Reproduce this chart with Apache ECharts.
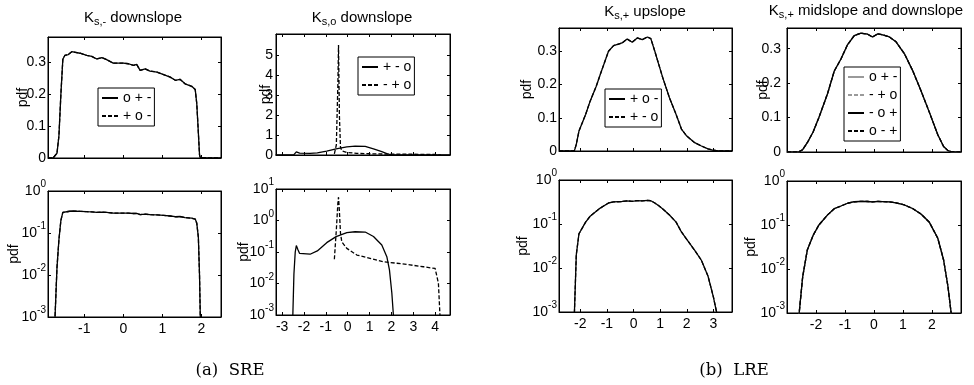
<!DOCTYPE html>
<html><head><meta charset="utf-8">
<script src="https://cdn.jsdelivr.net/npm/echarts@6/dist/echarts.min.js"></script>
<style>html,body{margin:0;padding:0;background:#fff}#c{width:974px;height:385px}</style>
</head><body><div id="c"></div>
<script>
// ---------- data ----------
// (a) SRE, K_s,- downslope : "o + -" (solid) and "+ o -" (dashed, coincident)
const sreMinusX = [-1.93, -1.80, -1.75, -1.70, -1.65, -1.60, -1.55, -1.50, -1.41, -1.32, -1.11, -0.94, -0.81, -0.68, -0.55, -0.43, -0.26, 0.00, 0.13, 0.26, 0.34, 0.43, 0.56, 0.68, 0.86, 1.03, 1.20, 1.33, 1.45, 1.58, 1.75, 1.84, 1.88, 1.92, 1.95, 1.97, 2.00, 2.50];
const sreMinusY = [1e-6, 1e-6, 0.001, 0.015, 0.07, 0.20, 0.31, 0.322, 0.325, 0.334, 0.329, 0.322, 0.319, 0.311, 0.315, 0.309, 0.298, 0.298, 0.296, 0.291, 0.294, 0.275, 0.280, 0.273, 0.270, 0.262, 0.254, 0.244, 0.247, 0.233, 0.225, 0.215, 0.170, 0.080, 0.010, 0.001, 1e-6, 1e-6];
// (a) SRE, K_s,o downslope : "+ - o" (solid)
const sreZeroSolidX = [-3.30, -2.56, -2.51, -2.46, -2.40, -2.35, -2.28, -2.20, -2.13, -1.72, -1.39, -0.96, -0.53, -0.04, 0.34, 0.80, 1.18, 1.56, 1.79, 1.91, 2.02, 2.09, 2.14, 4.70];
const sreZeroSolidY = [1e-6, 1e-6, 0.001, 0.02, 0.10, 0.16, 0.12, 0.09, 0.08, 0.085, 0.108, 0.198, 0.307, 0.41, 0.44, 0.43, 0.31, 0.166, 0.071, 0.027, 0.0049, 0.001, 1e-6, 1e-6];
// (a) SRE, K_s,o downslope : "- + o" (dashed)
const sreZeroDashX = [-0.61, -0.52, -0.45, -0.42, -0.38, -0.33, -0.27, -0.04, 0.42, 1.02, 1.63, 2.25, 2.85, 3.46, 4.00, 4.08, 4.15, 4.22, 4.26];
const sreZeroDashY = [0.059, 0.5, 3.5, 5.5, 2.0, 0.4, 0.21, 0.13, 0.08, 0.063, 0.049, 0.044, 0.039, 0.034, 0.030, 0.027, 0.0102, 0.001, 1e-6];
// (b) LRE, K_s,+ upslope : "+ o -" (solid) and "+ - o" (dashed, coincident)
const lreUpX = [-2.80, -2.30, -2.22, -2.15, -2.05, -1.80, -1.63, -1.40, -1.25, -0.94, -0.75, -0.43, -0.24, -0.05, 0.14, 0.33, 0.52, 0.65, 0.80, 0.95, 1.10, 1.35, 1.60, 1.80, 2.00, 2.30, 2.55, 2.80, 3.00, 3.12, 3.20, 3.70];
const lreUpY = [1e-6, 1e-6, 0.001, 0.02, 0.06, 0.11, 0.15, 0.195, 0.23, 0.30, 0.317, 0.325, 0.337, 0.327, 0.34, 0.335, 0.343, 0.338, 0.30, 0.26, 0.22, 0.16, 0.11, 0.066, 0.045, 0.025, 0.015, 0.0065, 0.0022, 0.001, 1e-5, 1e-6];
// (b) LRE, K_s,+ midslope and downslope : four coincident curves
const lreMidX = [-3.00, -2.66, -2.58, -2.46, -2.30, -2.10, -1.90, -1.60, -1.37, -1.14, -0.91, -0.68, -0.45, -0.22, -0.05, 0.13, 0.30, 0.53, 0.76, 1.05, 1.33, 1.62, 1.91, 2.20, 2.40, 2.55, 2.66, 2.70, 3.00];
const lreMidY = [1e-6, 1e-6, 0.001, 0.0066, 0.027, 0.058, 0.10, 0.17, 0.235, 0.27, 0.312, 0.338, 0.345, 0.342, 0.334, 0.343, 0.34, 0.334, 0.32, 0.285, 0.237, 0.178, 0.115, 0.05, 0.016, 0.004, 0.001, 1e-6, 1e-6];

// tick labels
const xTicks1 = [-1, 0, 1, 2];
const xTicks2 = [-3, -2, -1, 0, 1, 2, 3, 4];
const xTicks3 = [-2, -1, 0, 1, 2, 3];
const xTicks4 = [-2, -1, 0, 1, 2];
const yTicksSmall = [0, 0.1, 0.2, 0.3];
const yTicksBig = [0, 1, 2, 3, 4, 5];

// legend labels
const leg1 = ['o + -', '+ o -'];
const leg2 = ['+ - o', '- + o'];
const leg3 = ['+ o -', '+ - o'];
const leg4 = ['o + -', '- + o', '- o +', 'o - +'];

// ---------- chart ----------
const FONT = 'Liberation Sans, Arial, sans-serif';
const FS = 14;
const zip = (xs, ys) => xs.map((x, i) => [x, ys[i]]);

const grids = [
  {left: 48,  top: 37,  width: 173, height: 121},
  {left: 276, top: 34,  width: 174, height: 121},
  {left: 559, top: 28,  width: 173, height: 123},
  {left: 787, top: 28,  width: 174, height: 124},
  {left: 48,  top: 191, width: 173, height: 126},
  {left: 276, top: 189, width: 174, height: 126},
  {left: 559, top: 180, width: 173, height: 132},
  {left: 787, top: 181, width: 174, height: 132}
];
const xRanges = [[-1.93, 2.5], [-3.28, 4.68], [-2.8, 3.7], [-3, 3]];
const xTickSets = [xTicks1, xTicks2, xTicks3, xTicks4];
const linMax = [0.38, 6.05, 0.37, 0.36];
const linTicks = [yTicksSmall, yTicksBig, yTicksSmall, yTicksSmall];
const logMax = [1, 10, 1, 1];
const nameGapsTop = [18, 3, 25, 17];
const nameGapsBot = [27, 25, 29, 29];
const labelMarginTop = [2, 3, 2, 6];
const labelMarginBot = [2, 2, 2, 2];

const xAxes = [], yAxes = [];
const black = '#000';
const tickCommon = {show: true, inside: true, length: 3, lineStyle: {color: black, width: 1}};
for (let g = 0; g < 8; g++) {
  const col = g % 4, bottom = g >= 4;
  const [xmin, xmax] = xRanges[col];
  const xt = xTickSets[col];
  ['bottom', 'top'].forEach((pos, k) => {
    xAxes.push({
      gridIndex: g, type: 'value', min: xmin, max: xmax, position: pos,
      axisLine: {show: true, onZero: false, lineStyle: {color: black, width: 1}},
      axisTick: Object.assign({}, tickCommon, {customValues: xt}),
      axisLabel: {show: bottom && k === 0, customValues: xt, color: black, fontSize: FS, fontFamily: FONT, margin: 5},
      splitLine: {show: false}
    });
  });
  ['left', 'right'].forEach((pos, k) => {
    const main = k === 0;
    const nameCommon = {
      name: main ? 'pdf' : '', nameLocation: 'middle', nameRotate: 90, nameMoveOverlap: false,
      nameGap: bottom ? nameGapsBot[col] : nameGapsTop[col],
      nameTextStyle: {color: black, fontSize: FS, fontFamily: FONT}
    };
    if (!bottom) {
      yAxes.push(Object.assign({
        gridIndex: g, type: 'value', min: 0, max: linMax[col], position: pos,
        axisLine: {show: true, onZero: false, lineStyle: {color: black, width: 1}},
        axisTick: Object.assign({}, tickCommon, {customValues: linTicks[col]}),
        axisLabel: {show: main, customValues: linTicks[col], color: black, fontSize: FS, fontFamily: FONT, margin: labelMarginTop[col]},
        splitLine: {show: false}
      }, nameCommon));
    } else {
      yAxes.push(Object.assign({
        gridIndex: g, type: 'log', logBase: 10, min: 0.001, max: logMax[col], position: pos,
        axisLine: {show: true, onZero: false, lineStyle: {color: black, width: 1}},
        axisTick: tickCommon,
        axisLabel: {
          show: main, margin: labelMarginBot[col], color: black, fontFamily: FONT,
          formatter: v => '{b|10}{e|' + Math.round(Math.log10(v)) + '}',
          rich: {
            b: {fontSize: FS, color: black, fontFamily: FONT},
            e: {fontSize: 10, color: black, fontFamily: FONT, padding: [0, 0, 13, 0]}
          }
        },
        splitLine: {show: false}
      }, nameCommon));
    }
  });
}

const series = [];
function addLine(g, name, xs, ys, color, dashed, z) {
  series.push({
    type: 'line', name: name, xAxisIndex: g * 2, yAxisIndex: g * 2,
    data: zip(xs, ys), showSymbol: false, symbol: 'none', clip: true, animation: false,
    lineStyle: {color: color, width: 1.3, type: dashed ? [4, 2] : 'solid'},
    itemStyle: {color: color}, z: z || 2
  });
}
const gray = '#9a9a9a';
// top row (linear)
addLine(0, leg1[0] + '#1', sreMinusX, sreMinusY, black, false);
addLine(0, leg1[1] + '#1', sreMinusX, sreMinusY, black, true);
addLine(1, leg2[0] + '#2', sreZeroSolidX, sreZeroSolidY, black, false);
addLine(1, leg2[1] + '#2', sreZeroDashX, sreZeroDashY, black, true);
addLine(2, leg3[0] + '#3', lreUpX, lreUpY, black, false);
addLine(2, leg3[1] + '#3', lreUpX, lreUpY, black, true);
addLine(3, leg4[0] + '#4', lreMidX, lreMidY, gray, false, 2);
addLine(3, leg4[1] + '#4', lreMidX, lreMidY, gray, true, 2);
addLine(3, leg4[2] + '#4', lreMidX, lreMidY, black, false, 3);
addLine(3, leg4[3] + '#4', lreMidX, lreMidY, black, true, 3);
// bottom row (log)
addLine(4, 'log1a', sreMinusX, sreMinusY, black, false);
addLine(4, 'log1b', sreMinusX, sreMinusY, black, true);
addLine(5, 'log2a', sreZeroSolidX, sreZeroSolidY, black, false);
addLine(5, 'log2b', sreZeroDashX, sreZeroDashY, black, true);
addLine(6, 'log3a', lreUpX, lreUpY, black, false);
addLine(6, 'log3b', lreUpX, lreUpY, black, true);
addLine(7, 'log4a', lreMidX, lreMidY, gray, false, 2);
addLine(7, 'log4b', lreMidX, lreMidY, gray, true, 2);
addLine(7, 'log4c', lreMidX, lreMidY, black, false, 3);
addLine(7, 'log4d', lreMidX, lreMidY, black, true, 3);

function legendAt(left, top, names, suffix) {
  return {
    orient: 'vertical', left: left, top: top, data: names.map(n => n + suffix),
    formatter: n => n.split('#')[0], selectedMode: false,
    borderColor: black, borderWidth: 1, borderRadius: 0, backgroundColor: '#fff',
    padding: [2, 3, 2, 3], itemGap: 2, itemWidth: 16, itemHeight: 8,
    itemStyle: {opacity: 0},
    textStyle: {fontSize: FS, color: black, fontFamily: FONT, lineHeight: 16}
  };
}

const richTitle = {
  k: {fontSize: 15, color: black, fontFamily: FONT, lineHeight: 17, verticalAlign: 'top'},
  s: {fontSize: 11, color: black, fontFamily: FONT, lineHeight: 12, verticalAlign: 'bottom', padding: [10, 0, 0, 0]}
};
function titleAt(cx, top, sub, rest) {
  return {text: '{k|K}{s|' + sub + '}{k| ' + rest + '}', left: cx, top: top, textAlign: 'center', padding: 0,
          textStyle: {rich: richTitle, fontWeight: 'normal'}};
}
const capStyle = {fontFamily: 'DejaVu Serif, Liberation Serif, serif', fontSize: 16.5, fontWeight: 'normal', color: black};

const option = {
  animation: false,
  backgroundColor: '#fff',
  title: [
    titleAt(133, 10, 's,-', 'downslope'),
    titleAt(362, 10, 's,o', 'downslope'),
    titleAt(645, 4, 's,+', 'upslope'),
    titleAt(866, 3, 's,+', 'midslope and downslope'),
    {text: '(a)  SRE', left: 230, top: 362, textAlign: 'center', padding: 0, textStyle: capStyle},
    {text: '(b)  LRE', left: 734, top: 362, textAlign: 'center', padding: 0, textStyle: capStyle}
  ],
  legend: [
    legendAt(98, 88, leg1, '#1'),
    legendAt(358, 57, leg2, '#2'),
    legendAt(605, 89, leg3, '#3'),
    legendAt(844, 67, leg4, '#4')
  ],
  grid: grids.map(g => Object.assign({show: true, borderColor: black, borderWidth: 1, backgroundColor: 'transparent'}, g)),
  xAxis: xAxes,
  yAxis: yAxes,
  series: series
};
const chart = echarts.init(document.getElementById('c'), null, {renderer: 'canvas'});
chart.setOption(option);
</script>
</body></html>
